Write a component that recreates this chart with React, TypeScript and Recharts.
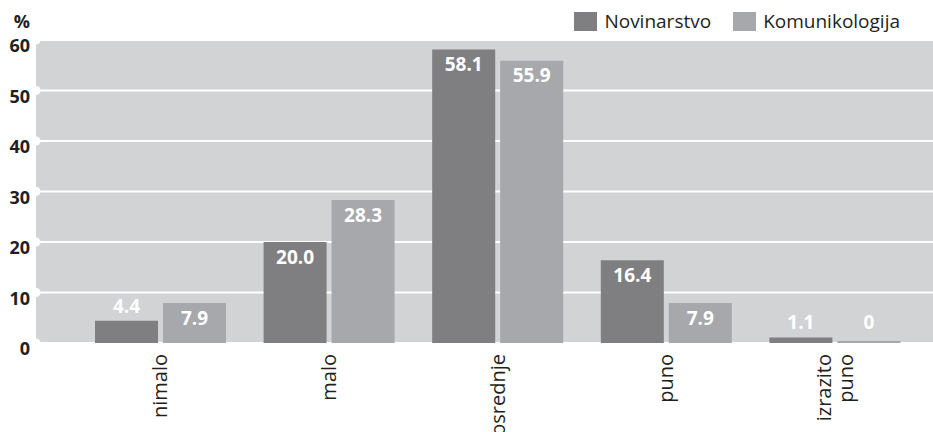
import React from "react";
import { BarChart, Bar, XAxis, YAxis, CartesianGrid, LabelList } from "recharts";

const categories = ["nimalo", "malo", "osrednje", "puno", "izrazito puno"];
const novinarstvo = [4.4, 20.0, 58.1, 16.4, 1.1];
const komunikologija = [7.9, 28.3, 55.9, 7.9, 0];
const yTicks = [0, 10, 20, 30, 40, 50, 60];

const DARK = "#7f7f82";
const LIGHT = "#a7a8ab";
const BG = "#d2d3d5";
const INK = "#231f20";
const FONT = "'Open Sans', sans-serif";

const data = categories.map((name, i) => ({
  name,
  novinarstvo: novinarstvo[i],
  komunikologija: komunikologija[i],
}));

function CategoryTick(props: any) {
  const { x, payload } = props;
  const lines = String(payload.value).split(" ");
  const lh = 22;
  return (
    <g transform={`translate(${x},354) rotate(-90)`}>
      {lines.map((line, i) => (
        <text
          key={line}
          x={0}
          y={(i - (lines.length - 1) / 2) * lh}
          dy="0.35em"
          textAnchor="end"
          fill={INK}
          fontSize={20}
          fontFamily={FONT}
        >
          {line}
        </text>
      ))}
    </g>
  );
}

function ValueTick(props: any) {
  const { y, payload } = props;
  return (
    <g>
      <circle cx={36} cy={y} r={4.5} fill="#fff" />
      <text
        x={30}
        y={y + 6}
        dy="0.35em"
        textAnchor="end"
        fill={INK}
        fontSize={18}
        fontWeight={700}
        fontFamily={FONT}
      >
        {payload.value}
      </text>
    </g>
  );
}

function ValueLabel(props: any) {
  const { x, y, width, height, value } = props;
  const bottom = y + height;
  const cy = height > 30 ? y + 15 : Math.min(y - 14, bottom - 21);
  return (
    <text
      x={x + width / 2}
      y={cy}
      dy="0.35em"
      textAnchor="middle"
      fill="#fff"
      fontSize={19}
      fontWeight={700}
      fontFamily={FONT}
    >
      {value === 0 ? "0" : Number(value).toFixed(1)}
    </text>
  );
}

function LegendItem({ color, label }: { color: string; label: string }) {
  return (
    <div style={{ display: "flex", alignItems: "center", marginLeft: 22 }}>
      <div style={{ width: 23, height: 19, background: color, marginRight: 7 }} />
      <span style={{ fontSize: 19, color: INK, fontFamily: FONT }}>{label}</span>
    </div>
  );
}

export default function App() {
  return (
    <div style={{ position: "absolute", left: 0, top: 0, width: 933, height: 432, background: "#fff" }}>
      <BarChart
        width={933}
        height={432}
        data={data}
        margin={{ top: 40, right: 0, bottom: 0, left: 0 }}
        barSize={63}
        barGap={5}
      >
        <CartesianGrid fill={BG} stroke="#fff" strokeWidth={2} vertical={false} />
        <XAxis
          dataKey="name"
          height={89}
          axisLine={false}
          tickLine={false}
          interval={0}
          padding={{ left: 40, right: 14 }}
          tick={<CategoryTick />}
        />
        <YAxis
          width={36}
          domain={[0, 60]}
          ticks={yTicks}
          axisLine={false}
          tickLine={false}
          tick={<ValueTick />}
          label={{
            content: () => (
              <text x={30} y={22} dy="0.35em" textAnchor="end" fill={INK} fontSize={18} fontWeight={700} fontFamily={FONT}>
                %
              </text>
            ),
          }}
        />
        <Bar dataKey="novinarstvo" fill={DARK} isAnimationActive={false}>
          <LabelList dataKey="novinarstvo" content={<ValueLabel />} />
        </Bar>
        <Bar dataKey="komunikologija" fill={LIGHT} minPointSize={2} isAnimationActive={false}>
          <LabelList dataKey="komunikologija" content={<ValueLabel />} />
        </Bar>
      </BarChart>
      <div style={{ position: "absolute", top: 8, right: 33, display: "flex" }}>
        <LegendItem color={DARK} label="Novinarstvo" />
        <LegendItem color={LIGHT} label="Komunikologija" />
      </div>
    </div>
  );
}
